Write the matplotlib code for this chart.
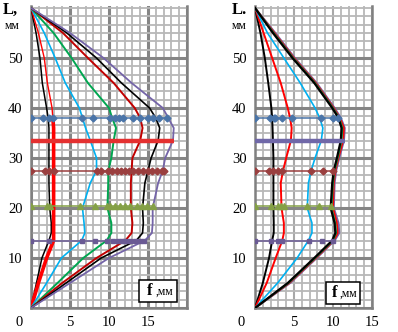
import numpy as np
import matplotlib.pyplot as plt
from matplotlib.patches import Rectangle

plt.rcParams['font.family'] = ['Liberation Serif', 'DejaVu Serif']

# L, mm (vertical axis) shared by all curves
L = np.array([0, 5, 10, 13.5, 15, 17, 20, 25, 27.5, 30, 33.5, 36, 38, 40, 45, 50, 55, 60])

# left panel, f in mm
black_a = [0, 0.7, 1.4, 2.3, 2.6, 2.6, 2.4, 2.3, 2.3, 2.3, 2.3, 2.3, 2.2, 2.0, 1.45, 1.15, 0.65, 0]
red_a = [0, 0.95, 2.0, 2.9, 2.9, 2.9, 2.9, 2.9, 2.9, 2.9, 2.9, 2.9, 2.8, 2.7, 2.1, 1.7, 0.95, 0]
cyan_a = [0, 2.0, 3.9, 6.5, 6.9, 6.8, 6.6, 7.6, 8.4, 8.4, 7.6, 7.0, 6.6, 6.2, 4.4, 3.1, 1.7, 0]
green_a = [0, 3.4, 6.7, 9.7, 10.3, 10.3, 9.8, 9.9, 9.9, 10.3, 10.6, 10.9, 10.4, 10.0, 7.3, 5.2, 2.9, 0]
dred_a = [0, 4.0, 8.4, 12.1, 12.9, 13.0, 12.8, 12.8, 12.9, 13.0, 14.0, 14.3, 14.0, 13.3, 10.6, 7.3, 4.1, 0]
black_b = [0, 4.5, 9.0, 13.5, 14.3, 14.4, 14.3, 14.6, 15.0, 15.4, 16.3, 16.5, 16.0, 15.2, 11.6, 8.4, 4.6, 0]
purple_a = [0, 5.0, 10.0, 14.6, 15.5, 15.6, 15.6, 16.3, 16.9, 17.2, 18.2, 18.3, 17.6, 16.9, 12.9, 9.3, 5.0, 0]

# right panel, f in mm
black_r = [0, 1.0, 1.8, 2.2, 2.4, 2.4, 2.36, 2.36, 2.36, 2.36, 2.3, 2.25, 2.2, 2.1, 1.7, 1.26, 0.7, 0]
red_r = [0, 1.5, 2.65, 3.5, 3.7, 3.7, 3.4, 3.3, 3.6, 4.0, 4.6, 4.7, 4.5, 4.2, 3.3, 2.2, 1.1, 0]
cyan_r = [0, 2.9, 5.4, 6.85, 7.3, 7.3, 6.7, 6.85, 7.2, 7.7, 8.5, 8.7, 8.3, 7.7, 5.8, 3.7, 1.6, 0]
black_r2 = [0, 4.2, 7.6, 9.9, 10.3, 10.2, 9.7, 9.9, 10.1, 10.5, 11.0, 11.1, 10.7, 9.9, 7.6, 4.8, 2.3, 0]
green_r = [0, 4.3, 7.7, 10.0, 10.4, 10.3, 9.8, 10.0, 10.2, 10.6, 11.1, 11.2, 10.8, 10.0, 7.7, 4.9, 2.4, 0]
red_r2 = [0, 4.4, 7.8, 10.1, 10.6, 10.5, 10.0, 10.1, 10.3, 10.7, 11.3, 11.4, 10.9, 10.1, 7.8, 5.0, 2.5, 0]
purple_r = [0, 4.5, 7.9, 10.2, 10.8, 10.7, 10.1, 10.2, 10.4, 10.8, 11.4, 11.5, 11.0, 10.2, 7.9, 5.1, 2.6, 0]

# measuring sections: level L and f of the points
lev_38, lev_275, lev_205, lev_135, lev_thick = 38, 27.5, 20.5, 13.5, 33.5
m38_a = [0, 1.5, 2.3, 2.8, 6.5, 8.0, 10.1, 10.8, 11.3, 11.8, 13.1, 14.0, 15.0, 15.7, 16.4, 17.4]
m275_a = [0, 1.8, 2.3, 2.9, 8.5, 9.0, 9.9, 10.4, 11.0, 11.5, 12.1, 12.6, 13.1, 13.7, 14.4, 15.0, 15.5, 16.2, 16.8, 17.1]
m205_a = [0, 2.0, 2.4, 6.3, 8.2, 9.7, 10.1, 10.8, 11.4, 12.1, 12.7, 13.6, 14.2, 14.9, 15.6]
m135_a = [0, 2.3, 6.5, 8.2, 9.7, 10.5, 11.2, 11.7, 12.1, 12.7, 13.3, 14.0, 14.5]
thick_a = [0, 18.3]

m38_r = [0, 1.9, 2.4, 2.6, 3.5, 4.7, 8.4, 10.0, 10.6]
m275_r = [0, 1.8, 2.3, 2.9, 3.5, 7.2, 8.7, 10.0]
m205_r = [0, 2.0, 2.9, 3.3, 3.7, 6.7, 8.2, 9.8]
m135_r = [0, 2.1, 2.9, 3.5, 6.9, 8.6, 10.0]
thick_r = [0, 11.6]

W, H = 398, 332
fig = plt.figure(figsize=(W / 100, H / 100), dpi=100)
ax1 = fig.add_axes([31 / W, 24 / H, 156 / W, 302 / H])
ax2 = fig.add_axes([255 / W, 24 / H, 117 / W, 302 / H])


def setup(ax, xmax, heavy_x):
    ax.set_xlim(0, xmax)
    ax.set_ylim(0, 60.4)
    ax.set_axisbelow(True)
    ax.set_xticks(range(0, xmax + 1, 5))
    ax.set_xticklabels([str(v) if 0 < v <= 15 else '' for v in range(0, xmax + 1, 5)])
    ax.set_xticks(range(0, xmax + 1), minor=True)
    ax.set_yticks(range(0, 51, 10))
    ax.set_yticklabels(['', '10', '20', '30', '40', '50'])
    ax.set_yticks(np.arange(0, 60.1, 10 / 6), minor=True)
    ax.tick_params(which='both', length=0, labelsize=10.5)
    ax.tick_params(axis='x', pad=6)
    ax.tick_params(axis='y', pad=6)
    ax.grid(which='minor', color='#b8b8b8', lw=1.3)
    ax.grid(which='major', axis='y', color='#858585', lw=2.2)
    if heavy_x:
        ax.grid(which='major', axis='x', color='#858585', lw=2.2)
    else:
        ax.grid(which='major', axis='x', color='#a8a8a8', lw=1.5)
    for s in ['left', 'bottom', 'right']:
        ax.spines[s].set_color('#808080')
        ax.spines[s].set_linewidth(1.8)
    ax.spines['top'].set_visible(False)


setup(ax1, 20, True)
setup(ax2, 15, False)


def sections(ax, m38, m275, m205, m135, thick, thick_color):
    ax.plot(m38, [lev_38] * len(m38), color='#4a74a8', lw=1.1, marker='D', ms=3.5, zorder=4)
    ax.plot(m275, [lev_275] * len(m275), color='#9a3f3f', lw=1.1, marker='D', ms=3.5, zorder=4)
    ax.plot(m205, [lev_205] * len(m205), color='#84a046', lw=1.1, marker='^', ms=4, zorder=4)
    ax.plot(m135, [lev_135] * len(m135), color='#6a5a94', lw=1.1, marker='s', ms=3, zorder=4)
    ax.plot(thick, [lev_thick] * len(thick), color=thick_color, lw=3.2, solid_capstyle='butt', zorder=4)


# left panel curves
low = L <= 38
ax1.plot(black_a, L, color='black', lw=1.1, zorder=3)
ax1.plot(red_a, L, color='#ff0000', lw=1.0, zorder=3)
ax1.plot(np.array(red_a)[low], L[low], color='#ff0000', lw=2.6, zorder=3)
ax1.plot(cyan_a, L, color='#00b0f0', lw=1.2, zorder=3)
ax1.plot(green_a, L, color='#00a650', lw=1.4, zorder=3)
ax1.plot(dred_a, L, color='#c00000', lw=1.4, zorder=3)
ax1.plot(black_b, L, color='black', lw=1.2, zorder=3)
ax1.plot(purple_a, L, color='#7464a8', lw=1.3, zorder=3)
sections(ax1, m38_a, m275_a, m205_a, m135_a, thick_a, '#e43030')

# right panel curves
ax2.plot(black_r, L, color='black', lw=1.4, zorder=3)
ax2.plot(red_r, L, color='#ff0000', lw=1.4, zorder=3)
ax2.plot(cyan_r, L, color='#00b0f0', lw=1.2, zorder=3)
ax2.plot(purple_r, L, color='#7464a8', lw=1.5, zorder=3)
ax2.plot(red_r2, L, color='#ff0000', lw=1.3, zorder=3)
ax2.plot(green_r, L, color='#00a650', lw=1.3, zorder=3)
ax2.plot(black_r2, L, color='black', lw=1.6, zorder=3)
sections(ax2, m38_r, m275_r, m205_r, m135_r, thick_r, '#7068a8')

# axis captions
for x0, x1 in [(3, 5), (232, 232)]:
    fig.text(x0 / W, 1 - 10 / H, 'L,' if x0 == 3 else 'L.', fontsize=12, fontweight='bold',
             va='center', ha='left')
    fig.text(x1 / W, 1 - 26 / H, 'мм', fontsize=8.5, va='center', ha='left')
fig.text(19 / W, 1 - 322 / H, '0', fontsize=10.5, ha='center', va='center')
fig.text(241 / W, 1 - 322 / H, '0', fontsize=10.5, ha='center', va='center')

# f, mm boxes
for ax, bx, by, bw, bh in [(ax1, 0.69, 0.02, 0.245, 0.074), (ax2, 0.61, 0.013, 0.29, 0.074)]:
    ax.add_patch(Rectangle((bx, by), bw, bh, transform=ax.transAxes, facecolor='white',
                           edgecolor='black', lw=1.1, zorder=6))
    ax.text(bx + 0.05, by + bh / 2, 'f', transform=ax.transAxes, fontsize=12,
            fontweight='bold', va='center', ha='left', zorder=7)
    ax.text(bx + 0.11, by + bh / 2 - 0.003, ',мм', transform=ax.transAxes, fontsize=8.5,
            va='center', ha='left', zorder=7)

fig.savefig('out.png', dpi=100)
